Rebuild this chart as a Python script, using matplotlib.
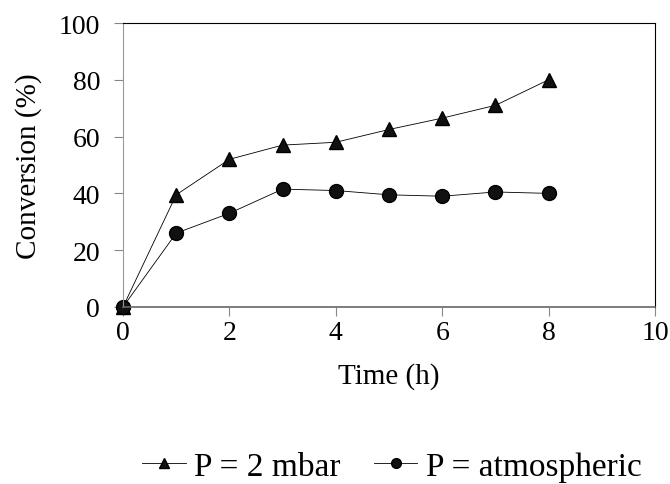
import matplotlib; matplotlib.use("Agg")
import matplotlib.pyplot as plt

time_h = [0, 1, 2, 3, 4, 5, 6, 7, 8]
conv_2mbar = [0, 39.5, 52, 57, 58, 62.5, 66.5, 71, 80]
conv_atm = [0, 26, 33, 41.5, 41, 39.5, 39, 40.5, 40]

plt.rcParams.update({"font.family": ["Liberation Serif", "DejaVu Serif"], "font.size": 21})

fig = plt.figure(figsize=(6.7, 4.85), dpi=100)
ax = fig.add_axes([0.1836, 0.365, 0.794, 0.5855])
ax.plot(time_h, conv_2mbar, "-^", color="black", lw=0.6, ms=10,
        markerfacecolor="#111111", label="P = 2 mbar", clip_on=False)
ax.plot(time_h, conv_atm, "-o", color="black", lw=0.6, ms=10,
        markerfacecolor="#111111", label="P = atmospheric", clip_on=False)
ax.set_xlim(0, 10); ax.set_ylim(0, 100)
ax.set_xticks(range(0, 11, 2)); ax.set_yticks(range(0, 101, 20))
ax.tick_params(direction="out", length=6.5, width=0.8, color="#888888", labelsize=20)
ax.tick_params(axis="y", pad=10)
ax.tick_params(axis="x", pad=3)
ax.spines["top"].set_color("black"); ax.spines["right"].set_color("black")
ax.spines["left"].set_color("#999999")
ax.spines["bottom"].set_color("#666666"); ax.spines["bottom"].set_linewidth(1.2)
for s in ["top", "right", "left"]:
    ax.spines[s].set_linewidth(0.8)
ax.set_xlabel("Time (h)", labelpad=12)
ax.set_ylabel("Conversion (%)", labelpad=12)
ax.legend(loc="center", bbox_to_anchor=(0.585, 0.036), bbox_transform=fig.transFigure,
          ncol=2, frameon=False, fontsize=24, handlelength=1.3, columnspacing=1.0,
          handletextpad=0.25, markerscale=0.7, borderpad=0)
fig.savefig("out.png", dpi=100)
